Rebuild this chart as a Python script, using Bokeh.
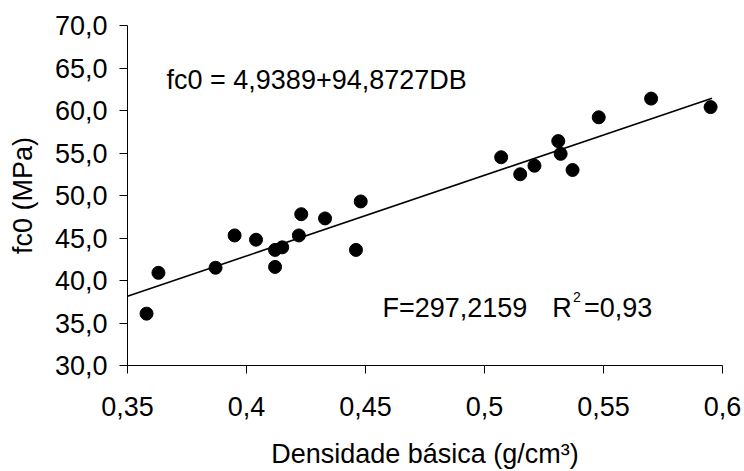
from bokeh.plotting import figure
from bokeh.models import Label, FixedTicker, Range1d
from bokeh.embed import file_html
from bokeh.resources import INLINE

# Data
densidade = [0.358, 0.363, 0.387, 0.395, 0.404, 0.412, 0.415, 0.412, 0.422, 0.423,
             0.433, 0.446, 0.448, 0.507, 0.515, 0.521, 0.531, 0.532, 0.537, 0.548,
             0.570, 0.595]
fc0 = [36.1, 40.9, 41.5, 45.3, 44.8, 43.6, 43.9, 41.6, 45.3, 47.8,
       47.3, 43.6, 49.3, 54.5, 52.5, 53.5, 56.4, 54.9, 53.0, 59.2,
       61.4, 60.4]

intercept = 4.9389
slope = 94.8727
fit_x = [0.35, 0.5956]
fit_y = [intercept + slope * v for v in fit_x]

x_ticks = [0.35, 0.40, 0.45, 0.50, 0.55, 0.60]
x_tick_labels = ["0,35", "0,4", "0,45", "0,5", "0,55", "0,6"]
y_ticks = [30, 35, 40, 45, 50, 55, 60, 65, 70]
y_tick_labels = ["30,0", "35,0", "40,0", "45,0", "50,0", "55,0", "60,0", "65,0", "70,0"]

eq_text = "fc0 = 4,9389+94,8727DB"
f_text = "F=297,2159"
r_text = "R"
r_sup = "2"
r_val = "=0,93"
x_label = "Densidade b\u00e1sica (g/cm\u00b3)"
y_label = "fc0 (MPa)"

FONT = "Liberation Sans"
FS = "27px"

p = figure(width=744, height=471, output_backend="svg", toolbar_location=None,
           x_range=Range1d(0.35, 0.60), y_range=Range1d(30, 70),
           min_border_left=127, min_border_right=22, min_border_top=25,
           min_border_bottom=105)
p.outline_line_color = None
p.grid.visible = False
p.background_fill_color = "white"
p.border_fill_color = "white"

p.line(fit_x, fit_y, line_color="black", line_width=1.6)
p.scatter(densidade, fc0, size=13, marker="circle", fill_color="black", line_color="black")

for ax, ticks, labels in ((p.xaxis[0], x_ticks, x_tick_labels), (p.yaxis[0], y_ticks, y_tick_labels)):
    ax.ticker = FixedTicker(ticks=ticks)
    ax.major_label_overrides = dict(zip(ticks, labels))
    ax.minor_tick_line_color = None
    ax.major_tick_in = 0
    ax.major_tick_out = 8
    ax.axis_line_color = "black"
    ax.major_tick_line_color = "black"
    ax.major_label_text_font = FONT
    ax.major_label_text_font_size = FS
    ax.major_label_text_color = "black"
    ax.axis_label_text_font = FONT
    ax.axis_label_text_font_size = FS
    ax.axis_label_text_font_style = "normal"
    ax.axis_label_text_color = "black"

p.xaxis.axis_label = x_label
p.yaxis.axis_label = y_label
p.xaxis.major_label_standoff = 23
p.xaxis.axis_label_standoff = 20
p.yaxis.major_label_standoff = 12
p.yaxis.axis_label_standoff = 14

def add_label(x, y, text, size=FS):
    p.add_layout(Label(x=x, y=y, text=text, text_font=FONT, text_font_size=size,
                       text_color="black", text_baseline="alphabetic"))

add_label(0.3664, 63.55, eq_text)
add_label(0.4571, 36.8, f_text)
add_label(0.5285, 36.8, r_text)
add_label(0.5372, 38.1, r_sup, "14px")
add_label(0.5418, 36.8, r_val)

open("out.html", "w").write(file_html(p, INLINE))
